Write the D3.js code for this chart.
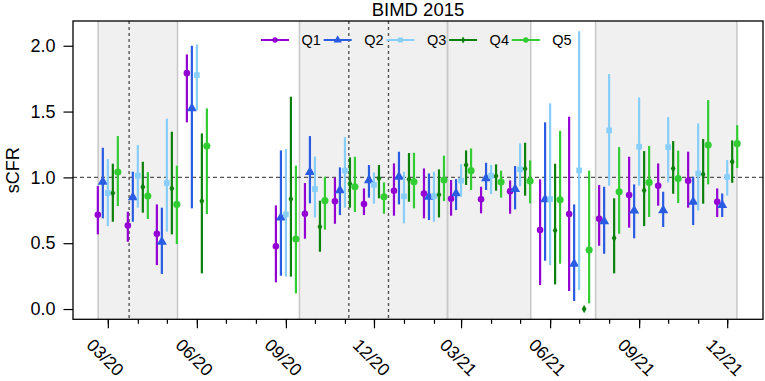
<!DOCTYPE html>
<html>
<head>
<meta charset="utf-8">
<script src="https://cdn.jsdelivr.net/npm/d3@7"></script>
<style>
  body { margin: 0; background: #fff; }
  svg { font-family: "Liberation Sans", Arial, sans-serif; }
</style>
</head>
<body>
<script>
  // months with data (one cluster of five quintiles each)
  var months = ["2020-03","2020-04","2020-05","2020-06","2020-09","2020-10","2020-11","2020-12",
                "2021-01","2021-02","2021-03","2021-04","2021-05","2021-06","2021-07","2021-08",
                "2021-09","2021-10","2021-11","2021-12"];

  var series = ["Q1", "Q2", "Q3", "Q4", "Q5"];
  var colors = ["#9400d3", "#2a5be3", "#87cefa", "#0b800b", "#32cd32"];

  var q1   = [0.716,0.635,0.572,1.792,0.476,0.724,0.818,0.797,0.899,0.878,0.838,0.833,0.894,0.600,0.722,0.686,0.866,0.937,0.975,0.815];
  var q1Lo = [0.567,0.511,0.334,1.418,0.203,0.534,0.648,0.714,0.709,0.689,0.709,0.727,0.724,0.182,0.137,0.481,0.618,0.785,0.770,0.699];
  var q1Hi = [0.934,0.739,0.795,1.934,0.787,0.957,0.997,0.916,1.106,1.068,0.980,0.929,0.977,0.985,1.461,0.942,1.157,1.106,1.195,0.916];

  var q2   = [0.967,0.848,0.511,1.524,0.694,1.040,0.901,0.977,1.005,0.853,0.878,0.992,0.911,0.833,0.344,0.666,0.747,0.749,0.815,0.790];
  var q2Lo = [0.689,0.663,0.266,0.765,0.253,0.803,0.714,0.846,0.795,0.676,0.752,0.904,0.757,0.367,0.061,0.420,0.537,0.623,0.638,0.699];
  var q2Hi = [1.225,1.043,0.770,2.000,1.205,1.314,1.076,1.094,1.195,1.030,0.987,1.111,1.086,1.418,0.795,0.929,0.947,0.891,1.005,0.878];

  var q3   = [0.881,1.013,0.957,1.777,0.719,0.911,1.051,0.944,0.856,0.858,0.975,1.013,1.061,0.835,1.053,1.357,1.233,1.230,1.030,1.003];
  var q3Lo = [0.630,0.770,0.587,1.510,0.246,0.696,0.770,0.800,0.651,0.663,0.853,0.873,0.932,0.334,0.144,0.937,0.937,0.962,0.749,0.861];
  var q3Hi = [1.139,1.246,1.446,2.010,1.215,1.159,1.306,1.038,1.043,1.043,1.099,1.094,1.258,1.562,2.111,1.785,1.608,1.458,1.410,1.132];

  var q4   = [0.881,0.927,0.916,0.820,0.835,0.625,0.952,0.992,0.985,0.868,1.094,1.010,1.066,0.597,0.000,0.539,0.901,1.068,1.023,1.119];
  var q4Lo = [0.663,0.732,0.567,0.271,0.246,0.435,0.770,0.841,0.815,0.696,0.942,0.899,0.861,0.187,0.000,0.271,0.630,0.876,0.800,0.959];
  var q4Hi = [1.104,1.119,1.347,1.334,1.613,0.823,1.152,1.094,1.185,1.061,1.205,1.099,1.263,1.104,0.000,0.841,1.200,1.276,1.291,1.281];

  var q5   = [1.040,0.858,0.795,1.238,0.532,0.823,0.929,0.853,0.967,0.980,1.051,0.965,0.972,0.830,0.448,0.891,0.962,0.992,1.246,1.256];
  var q5Lo = [0.782,0.684,0.494,0.722,0.119,0.603,0.737,0.724,0.765,0.820,0.904,0.846,0.803,0.344,0.043,0.572,0.699,0.805,0.947,1.071];
  var q5Hi = [1.314,1.040,1.089,1.524,1.089,1.005,1.157,0.962,1.187,1.165,1.220,1.051,1.129,1.354,1.051,1.230,1.238,1.203,1.587,1.397];

  var yTicks = [0, 0.5, 1, 1.5, 2];

  // shaded periods and dashed event lines
  var periods = [["2020-02-20","2020-05-12"], ["2020-09-15","2021-02-15"],
                 ["2021-02-15","2021-05-12"], ["2021-07-18","2021-12-11"]];
  var events = ["2020-03-23", "2020-11-05", "2020-12-16"];

  var est = [q1, q2, q3, q4, q5];
  var lo = [q1Lo, q2Lo, q3Lo, q4Lo, q5Lo];
  var hi = [q1Hi, q2Hi, q3Hi, q4Hi, q5Hi];
  var shapes = [d3.symbolCircle, d3.symbolTriangle, d3.symbolSquare, d3.symbolDiamond, d3.symbolCircle];
  var sizes = [34, 44, 32, 20, 40];
  var legendSizes = [22, 30, 24, 14, 22];

  var parseMonth = d3.timeParse("%Y-%m");
  var parseDay = d3.timeParse("%Y-%m-%d");

  var pLeft = 73, pRight = 763, pTop = 21, pBottom = 319.3;

  var svg = d3.select("body").append("svg")
    .attr("width", 765)
    .attr("height", 381);

  var x = d3.scaleTime()
    .domain([new Date(2020, 0, 25), new Date(2022, 0, 7)])
    .range([pLeft, pRight]);

  var y = d3.scaleLinear()
    .domain([-0.078, 2.188])
    .range([pBottom, pTop]);

  var offset = d3.scalePoint().domain(series).range([-10, 10]);

  // shaded periods
  svg.selectAll("rect.period")
    .data(periods)
    .enter()
    .append("rect")
      .attr("class", "period")
      .attr("x", function(d) { return x(parseDay(d[0])); })
      .attr("y", pTop)
      .attr("width", function(d) { return x(parseDay(d[1])) - x(parseDay(d[0])); })
      .attr("height", pBottom - pTop)
      .attr("fill", "#f0f0f0");

  var edges = [];
  periods.forEach(function(p) { edges.push(p[0], p[1]); });
  svg.selectAll("line.edge")
    .data(edges)
    .enter()
    .append("line")
      .attr("x1", function(d) { return x(parseDay(d)); })
      .attr("x2", function(d) { return x(parseDay(d)); })
      .attr("y1", pTop)
      .attr("y2", pBottom)
      .attr("stroke", "#c8c8c8")
      .attr("stroke-width", 1.5);

  svg.selectAll("line.event")
    .data(events)
    .enter()
    .append("line")
      .attr("x1", function(d) { return x(parseDay(d)); })
      .attr("x2", function(d) { return x(parseDay(d)); })
      .attr("y1", pTop)
      .attr("y2", pBottom)
      .attr("stroke", "#555")
      .attr("stroke-width", 1.4)
      .attr("stroke-dasharray", "3,3");

  svg.append("line")
    .attr("x1", pLeft).attr("x2", pRight)
    .attr("y1", y(1)).attr("y2", y(1))
    .attr("stroke", "#555")
    .attr("stroke-width", 1.2)
    .attr("stroke-dasharray", "4,3");

  // error bars and points
  series.forEach(function(s, i) {
    var rows = months.map(function(m, j) {
      return { date: parseMonth(m), v: est[i][j], lo: lo[i][j], hi: hi[i][j] };
    });
    var g = svg.append("g");
    g.selectAll("line")
      .data(rows)
      .enter()
      .append("line")
        .attr("x1", function(d) { return x(d.date) + offset(s); })
        .attr("x2", function(d) { return x(d.date) + offset(s); })
        .attr("y1", function(d) { return y(d.lo); })
        .attr("y2", function(d) { return y(d.hi); })
        .attr("stroke", colors[i])
        .attr("stroke-width", 2.2);
    g.selectAll("path")
      .data(rows)
      .enter()
      .append("path")
        .attr("d", d3.symbol().type(shapes[i]).size(sizes[i]))
        .attr("transform", function(d) { return "translate(" + (x(d.date) + offset(s)) + "," + y(d.v) + ")"; })
        .attr("fill", colors[i]);
  });

  // frame
  svg.append("rect")
    .attr("x", pLeft).attr("y", pTop)
    .attr("width", pRight - pLeft).attr("height", pBottom - pTop)
    .attr("fill", "none")
    .attr("stroke", "#000")
    .attr("stroke-width", 1.3);

  // x axis: monthly minor ticks, quarterly labelled ticks
  var tickMonths = d3.timeMonth.range(new Date(2020, 2, 1), new Date(2022, 0, 1));
  var quarterMonths = tickMonths.filter(function(d) { return d.getMonth() % 3 === 2; });

  var xMinor = svg.append("g")
    .attr("transform", "translate(0," + pBottom + ")")
    .call(d3.axisBottom(x).tickValues(tickMonths).tickSize(4.5).tickFormat(""));
  xMinor.select(".domain").remove();

  var xMajor = svg.append("g")
    .attr("transform", "translate(0," + pBottom + ")")
    .call(d3.axisBottom(x).tickValues(quarterMonths).tickSize(9).tickFormat(d3.timeFormat("%m/%y")));
  xMajor.select(".domain").remove();
  xMajor.selectAll("text")
    .attr("y", 0)
    .attr("dy", "0.35em")
    .attr("transform", "translate(-3,38) rotate(45)")
    .style("text-anchor", "middle")
    .style("font-size", "17.5px")
    .style("font-family", "Liberation Sans, Arial, sans-serif")
    .attr("fill", "#000");

  svg.selectAll(".tick line").attr("stroke", "#000").attr("stroke-width", 1.2);

  var yAxis = svg.append("g")
    .attr("transform", "translate(" + pLeft + ",0)")
    .call(d3.axisLeft(y).tickValues(yTicks).tickSize(9.5).tickPadding(8).tickFormat(d3.format(".1f")));
  yAxis.select(".domain").remove();
  yAxis.selectAll("text")
    .style("font-size", "18px")
    .style("font-family", "Liberation Sans, Arial, sans-serif")
    .attr("fill", "#000");
  yAxis.selectAll(".tick line").attr("stroke", "#000").attr("stroke-width", 1.2);

  svg.append("text")
    .attr("transform", "translate(19," + ((pTop + pBottom) / 2) + ") rotate(-90)")
    .attr("text-anchor", "middle")
    .style("font-size", "18px")
    .text("sCFR");

  svg.append("text")
    .attr("x", (pLeft + pRight) / 2)
    .attr("y", 16)
    .attr("text-anchor", "middle")
    .style("font-size", "18.5px")
    .text("BIMD 2015");

  // legend
  var legend = svg.selectAll("g.legend")
    .data(series)
    .enter()
    .append("g")
      .attr("class", "legend")
      .attr("transform", function(d, i) { return "translate(" + (261 + i * 62.7) + ",40)"; });

  legend.append("line")
    .attr("x1", 0).attr("x2", 28)
    .attr("stroke", function(d, i) { return colors[i]; })
    .attr("stroke-width", 2);

  legend.append("path")
    .attr("d", function(d, i) { return d3.symbol().type(shapes[i]).size(legendSizes[i])(); })
    .attr("transform", "translate(14,0)")
    .attr("fill", function(d, i) { return colors[i]; });

  legend.append("text")
    .attr("x", 40.5)
    .attr("dy", "0.35em")
    .style("font-size", "14.5px")
    .text(function(d) { return d; });
</script>
</body>
</html>
